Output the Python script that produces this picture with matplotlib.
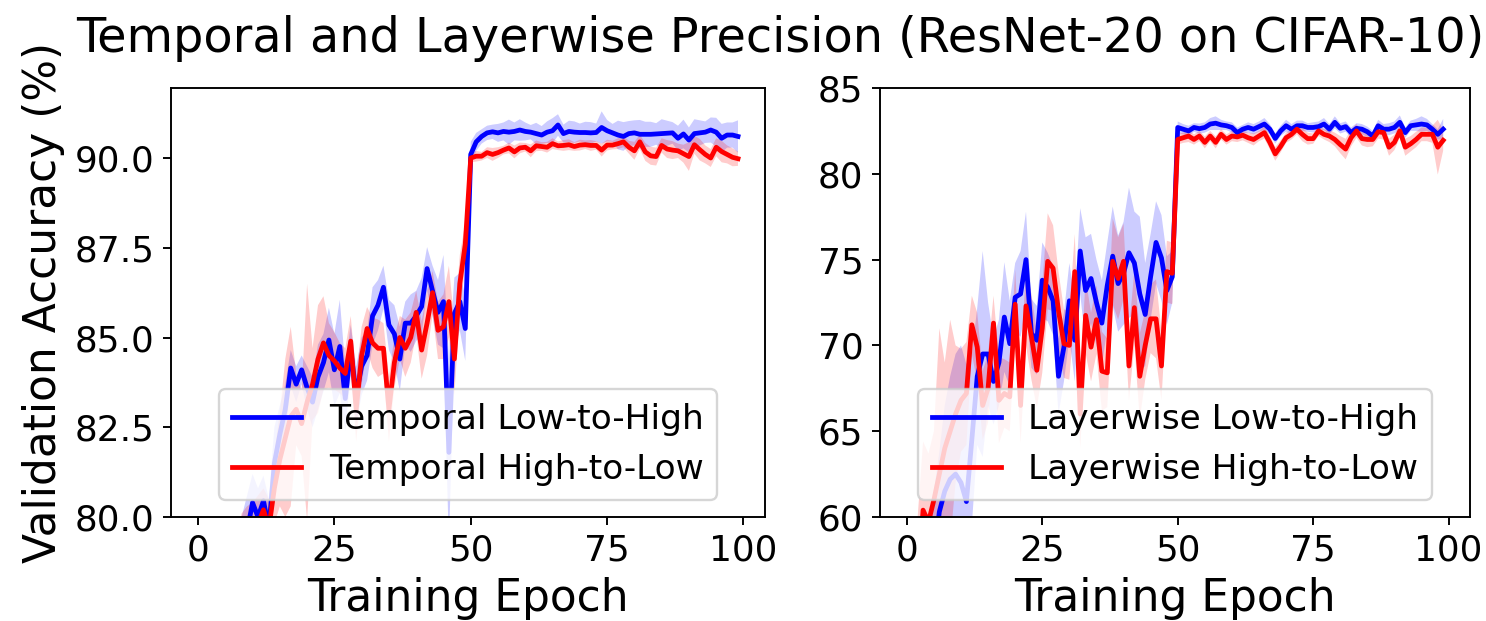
import numpy as np
import matplotlib
matplotlib.use("Agg")
import matplotlib.pyplot as plt

epochs = list(range(100))

# ---- Left panel: Temporal (validation accuracy %) ----
temporal_low_to_high = [
    30.0, 55.0, 65.0, 70.0, 73.0, 75.5, 77.0, 78.0, 78.8, 79.6,
    80.4, 80.0, 80.45, 79.7, 81.5, 82.3, 83.0, 84.15, 83.7, 84.1,
    83.6, 83.2, 83.9, 84.3, 84.93, 84.1, 84.75, 83.3, 84.65, 83.4,
    84.2, 84.5, 85.6, 85.9, 86.4, 85.35, 85.1, 84.4, 85.4, 85.4,
    85.6, 85.86, 86.92, 86.3, 85.7, 86.0, 81.8, 85.67, 86.0, 85.25,
    90.1, 90.45, 90.6, 90.7, 90.73, 90.7, 90.74, 90.72, 90.74, 90.78,
    90.74, 90.72, 90.68, 90.64, 90.72, 90.76, 90.92, 90.68, 90.74, 90.72,
    90.71, 90.71, 90.7, 90.71, 90.85, 90.76, 90.7, 90.64, 90.6, 90.68,
    90.7, 90.66, 90.66, 90.66, 90.67, 90.68, 90.69, 90.7, 90.55, 90.67,
    90.5, 90.68, 90.7, 90.72, 90.78, 90.72, 90.55, 90.64, 90.64, 90.6,
]
temporal_low_to_high_std = [
    3, 3, 2.5, 2, 2, 1.5, 1.5, 1.2, 1.2, 1.0,
    0.8, 0.8, 0.7, 0.8, 1.0, 0.8, 0.7, 0.5, 0.5, 0.4,
    0.6, 0.7, 0.9, 0.8, 0.9, 1.0, 1.3, 0.9, 0.7, 0.8,
    0.8, 0.7, 0.8, 0.7, 0.6, 0.7, 0.8, 0.9, 0.6, 0.8,
    0.7, 0.8, 0.6, 0.7, 0.9, 1.3, 2.6, 1.0, 0.8, 0.9,
    0.35, 0.25, 0.2, 0.2, 0.2, 0.25, 0.25, 0.35, 0.25, 0.3,
    0.25, 0.2, 0.3, 0.25, 0.3, 0.35, 0.3, 0.25, 0.3, 0.3,
    0.25, 0.3, 0.3, 0.25, 0.45, 0.3, 0.25, 0.4, 0.4, 0.35,
    0.35, 0.4, 0.35, 0.35, 0.3, 0.4, 0.35, 0.3, 0.35, 0.4,
    0.35, 0.4, 0.35, 0.3, 0.35, 0.4, 0.4, 0.35, 0.35, 0.45,
]
temporal_high_to_low = [
    35.0, 58.0, 66.0, 71.0, 74.0, 76.0, 77.3, 78.2, 78.9, 79.3,
    79.6, 79.8, 80.2, 79.7, 80.8, 81.6, 82.2, 82.8, 83.0, 82.6,
    83.2, 83.7, 84.4, 84.85, 84.5, 84.35, 84.15, 84.0, 84.9, 83.0,
    84.5, 85.25, 84.85, 84.7, 84.7, 83.0, 84.3, 85.0, 84.7, 85.0,
    85.7, 84.65, 85.4, 86.25, 85.2, 85.3, 86.0, 84.4, 86.5, 87.6,
    90.0, 90.05, 90.05, 90.15, 90.1, 90.15, 90.22, 90.28, 90.17, 90.28,
    90.3, 90.2, 90.34, 90.32, 90.3, 90.4, 90.34, 90.35, 90.37, 90.32,
    90.36, 90.37, 90.35, 90.35, 90.22, 90.36, 90.36, 90.4, 90.45, 90.3,
    90.2, 90.45, 90.17, 90.06, 90.04, 90.35, 90.25, 90.22, 90.2, 90.12,
    90.04, 90.37, 90.23, 90.1, 90.0, 90.3, 90.18, 90.1, 90.02, 89.98,
]
temporal_high_to_low_std = [
    3, 3, 2.5, 2, 2, 1.5, 1.5, 1.2, 1.2, 1.0,
    0.8, 0.8, 0.6, 0.8, 1.0, 1.3, 2.2, 2.5, 1.0, 0.9,
    3.3, 1.0, 1.5, 1.3, 0.9, 0.8, 0.7, 0.7, 0.7, 0.9,
    0.8, 0.6, 0.7, 0.8, 0.7, 0.9, 0.7, 0.6, 0.8, 0.7,
    0.6, 0.8, 0.9, 0.6, 0.8, 0.9, 1.0, 1.0, 0.8, 0.6,
    0.12, 0.15, 0.12, 0.15, 0.18, 0.15, 0.12, 0.15, 0.18, 0.15,
    0.12, 0.18, 0.15, 0.12, 0.15, 0.15, 0.12, 0.15, 0.15, 0.12,
    0.15, 0.12, 0.15, 0.12, 0.18, 0.15, 0.12, 0.15, 0.15, 0.18,
    0.25, 0.2, 0.25, 0.25, 0.25, 0.2, 0.25, 0.25, 0.2, 0.25,
    0.4, 0.25, 0.3, 0.25, 0.25, 0.25, 0.3, 0.25, 0.25, 0.2,
]

# ---- Right panel: Layerwise ----
layerwise_low_to_high = [
    35.0, 45.0, 50.0, 53.0, 55.5, 57.5, 60.3, 61.5, 62.2, 62.5,
    62.0, 60.9, 64.5, 68.2, 69.5, 69.5, 67.9, 69.0, 71.65, 70.1,
    72.8, 73.0, 75.0, 70.7, 70.3, 73.8, 73.4, 72.6, 68.2, 69.9,
    72.6, 70.3, 75.5, 73.2, 73.9, 72.5, 71.3, 73.5, 75.2, 73.6,
    74.2, 75.4, 74.8, 73.0, 71.8, 74.0, 76.0, 75.1, 73.2, 74.0,
    82.7, 82.6, 82.5, 82.7, 82.63, 82.7, 82.9, 82.95, 82.85, 82.8,
    82.7, 82.4, 82.6, 82.7, 82.6, 82.75, 82.9, 82.6, 82.06, 82.5,
    82.8, 82.6, 82.8, 82.8, 82.7, 82.7, 82.75, 82.9, 82.6, 83.0,
    82.65, 82.75, 82.4, 82.65, 82.6, 82.45, 82.2, 82.8, 82.6, 82.6,
    82.7, 83.0, 82.4, 82.8, 82.85, 82.9, 82.85, 82.6, 82.3, 82.6,
]
layerwise_low_to_high_std = [
    4, 4, 4, 4, 4, 4, 3.5, 5, 6, 7,
    8, 8, 5, 4, 6, 3, 2.5, 2.5, 3.2, 2.5,
    2.0, 2.5, 2.8, 2.0, 2.0, 2.2, 2.0, 2.0, 2.2, 2.0,
    2.2, 2.4, 2.5, 3.1, 2.6, 2.5, 2.5, 2.5, 2.9, 2.8,
    3.0, 3.8, 3.0, 4.5, 3.0, 2.5, 2.4, 2.5, 2.0, 1.5,
    0.35, 0.3, 0.3, 0.25, 0.3, 0.3, 0.35, 0.4, 0.3, 0.25,
    0.3, 0.3, 0.25, 0.3, 0.3, 0.3, 0.35, 0.3, 0.3, 0.3,
    0.35, 0.3, 0.3, 0.3, 0.25, 0.3, 0.3, 0.35, 0.3, 0.35,
    0.3, 0.3, 0.3, 0.3, 0.3, 0.3, 0.3, 0.35, 0.3, 0.35,
    0.35, 0.4, 0.3, 0.3, 0.35, 0.45, 0.35, 0.3, 0.3, 0.6,
]
layerwise_high_to_low = [
    42.0, 50.0, 56.0, 60.4, 59.7, 61.0, 62.5, 64.0, 65.0, 66.0,
    66.8, 67.2, 71.2, 69.9, 66.5, 67.5, 71.3, 66.8, 67.2, 67.0,
    72.4, 66.5, 72.3, 70.5, 68.55, 71.0, 74.9, 74.5, 72.0, 70.1,
    70.0, 74.3, 66.0, 71.75, 69.9, 71.5, 68.5, 68.4, 74.9, 73.9,
    74.9, 68.8, 72.2, 68.2, 70.0, 71.55, 71.55, 68.8, 74.3, 74.2,
    82.0, 82.1, 82.2, 82.0, 82.2, 81.83, 82.2, 81.83, 82.3, 82.0,
    82.2, 82.15, 82.25, 82.1, 82.0, 82.2, 82.4, 81.83, 81.16, 81.6,
    82.1, 82.3, 82.6, 82.3, 82.05, 82.05, 82.5, 82.3, 82.2, 82.0,
    81.7, 81.44, 82.1, 82.5, 82.05, 82.0, 82.0, 82.45, 82.4, 81.55,
    81.83, 82.5, 81.55, 81.75, 82.0, 82.3, 82.3, 82.3, 81.55, 81.95,
]
layerwise_high_to_low_std = [
    4, 4, 4, 4, 4, 4, 8.5, 5, 6.5, 4,
    3, 3, 1.7, 2.0, 2.0, 2.0, 1.6, 2.5, 2.0, 2.0,
    2.0, 2.2, 2.3, 2.5, 2.2, 2.6, 2.8, 2.5, 2.3, 2.0,
    2.0, 2.2, 2.0, 2.2, 2.0, 2.0, 2.3, 2.0, 2.5, 2.4,
    2.2, 2.0, 2.2, 2.5, 2.0, 2.0, 2.3, 2.0, 1.8, 1.8,
    0.3, 0.3, 0.35, 0.3, 0.3, 0.35, 0.3, 0.35, 0.3, 0.3,
    0.3, 0.3, 0.3, 0.3, 0.35, 0.3, 0.35, 0.4, 0.4, 0.35,
    0.3, 0.3, 0.3, 0.4, 0.35, 0.3, 0.3, 0.3, 0.35, 0.4,
    0.5, 0.6, 0.5, 0.4, 0.4, 0.45, 0.4, 0.4, 0.4, 0.5,
    0.45, 0.4, 0.5, 0.45, 0.45, 0.4, 0.4, 0.5, 1.6, 0.6,
]

title = "Temporal and Layerwise Precision (ResNet-20 on CIFAR-10)"
xlabel = "Training Epoch"
ylabel = "Validation Accuracy (%)"

DPI = 172
fig = plt.figure(figsize=(1486 / DPI, 621 / DPI), dpi=DPI)
W, H = 1486, 621
ax1 = fig.add_axes([171 / W, 1 - 517 / H, 594 / W, 429 / H])
ax2 = fig.add_axes([880 / W, 1 - 517 / H, 590 / W, 429 / H])

panels = [
    (ax1, [("Temporal Low-to-High", temporal_low_to_high, temporal_low_to_high_std, "blue"),
           ("Temporal High-to-Low", temporal_high_to_low, temporal_high_to_low_std, "red")], (80, 91.95)),
    (ax2, [("Layerwise Low-to-High", layerwise_low_to_high, layerwise_low_to_high_std, "blue"),
           ("Layerwise High-to-Low", layerwise_high_to_low, layerwise_high_to_low_std, "red")], (60, 85)),
]

x = np.array(epochs)
for ax, series, ylim in panels:
    for label, mean, std, color in series:
        m = np.array(mean)
        s = np.array(std)
        ax.fill_between(x, m - s, m + s, color=color, alpha=0.2, linewidth=0)
        ax.plot(x, m, color=color, linewidth=2.0, label=label)
    ax.set_ylim(*ylim)
    ax.set_xlim(-4.95, 103.95)
    ax.set_xticks([0, 25, 50, 75, 100])
    ax.tick_params(labelsize=15)
    ax.set_xlabel(xlabel, fontsize=18.4)
    ax.legend(loc="lower center", fontsize=14.4)

ax1.set_ylabel(ylabel, fontsize=18.4)
fig.text(780 / W, 1 - 38 / H, title, ha="center", va="center", fontsize=20)

fig.savefig("out.png", dpi=DPI)
